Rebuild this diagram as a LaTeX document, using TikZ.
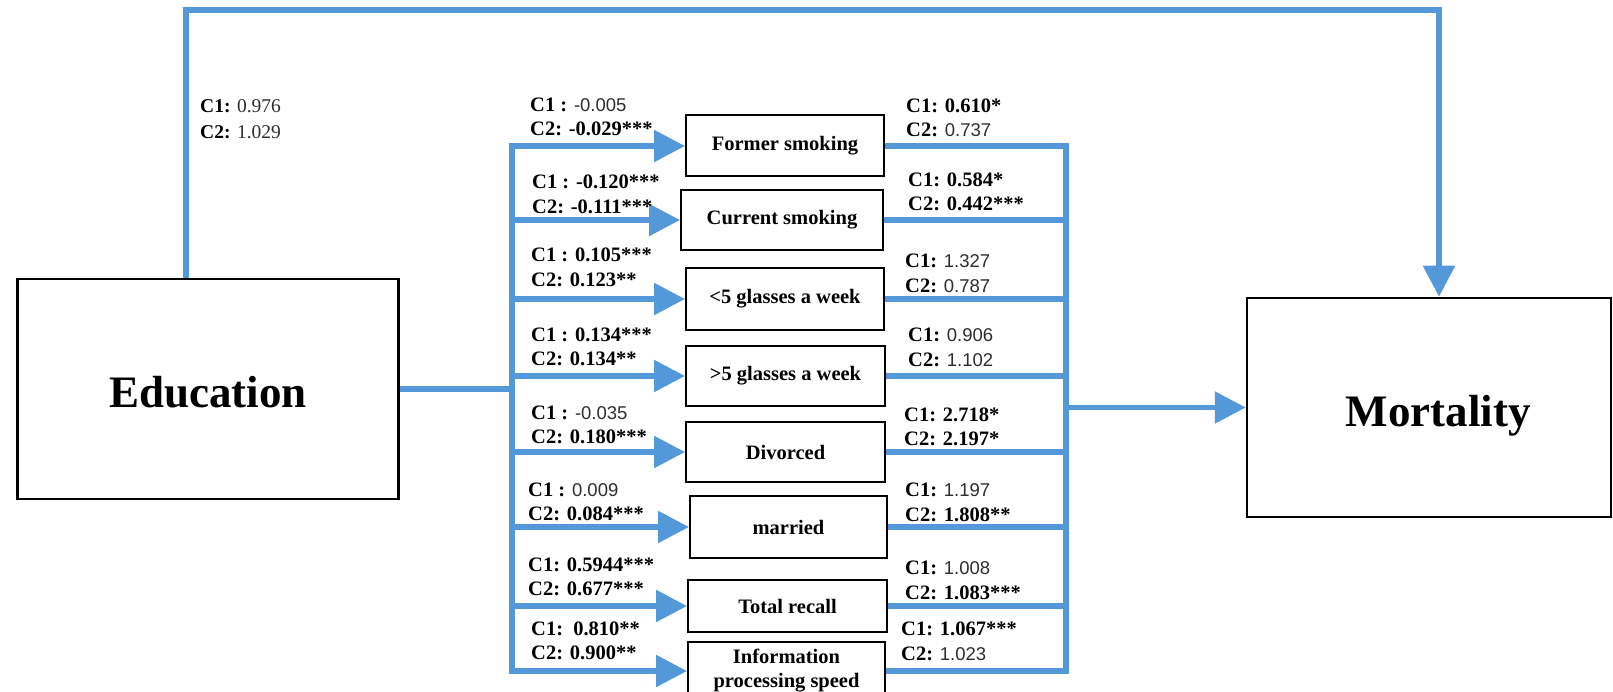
\documentclass[tikz,border=0pt]{standalone}
\usepackage{fontspec}
\setmainfont{Liberation Serif}
\newfontfamily\arialfam{Liberation Sans}
\usetikzlibrary{arrows.meta}
\definecolor{flow}{RGB}{83,152,216}
\definecolor{valgray}{RGB}{45,45,45}
\newcommand{\vnum}[1]{{\arialfam\fontsize{18.5}{24.5}\selectfont\color{valgray}#1}}
\newcommand{\vsm}[1]{{\color{valgray}#1}}
\begin{document}
\begin{tikzpicture}[x=1pt,y=-1pt,
  conn/.style={draw=flow,line width=5.5pt},
  arr/.style={conn,-{Triangle[length=31pt,width=31pt]}},
  medbox/.style={draw=black,line width=2pt,font=\bfseries\fontsize{20.5}{24}\selectfont,inner sep=0pt,align=center,minimum width=198pt},
  bigbox/.style={draw=black,line width=2.5pt,inner sep=0pt},
  bigtext/.style={font=\bfseries\fontsize{45}{50}\selectfont,inner sep=0pt},
  lab/.style={anchor=west,inner sep=0pt,align=left,font=\fontsize{20.5}{24.5}\selectfont},
  ]
\useasboundingbox (0,0) rectangle (1613,692);

% main boxes
\node[bigbox,minimum width=381pt,minimum height=220pt] (edu) at (208,389) {};
\node[bigtext] (eduT) at ([yshift=-3pt]edu.center) {Education};
\node[bigbox,minimum width=364pt,minimum height=219pt] (mort) at (1429,407.5) {};
\node[bigtext] (mortT) at ([xshift=9pt,yshift=-8pt]mort.center) {Mortality};

% mediator boxes
\node[medbox,minimum height=61pt] (m1) at (785,146) {Former smoking};
\node[medbox,minimum width=202pt,minimum height=60pt] (m2) at (782,220) {Current smoking};
\node[medbox,minimum height=61pt] (m3) at (785,299) {<5 glasses a week};
\node[medbox,minimum width=199pt,minimum height=60pt] (m4) at (785.5,376) {>5 glasses a week};
\node[medbox,minimum width=199pt,minimum height=60pt] (m5) at (785.5,452) {Divorced};
\node[medbox,minimum width=197pt,minimum height=62pt] (m6) at (788.5,527) {married};
\node[medbox,minimum width=199pt,minimum height=52pt] (m7) at (787.5,606) {Total recall};
\node[medbox,minimum width=197pt,minimum height=58pt] (m8) at (786.5,671) {Information\\processing speed};

% bus coordinates
\coordinate (lbT) at (512,147);
\coordinate (rbT) at (1066,147);
\coordinate (tl) at (186,10);
\coordinate (tr) at (1439,10);

% direct path
\draw[arr] (tl |- edu.north) -- (tl) -- (tr) -- (tr |- mort.north);

% education to left bus
\draw[conn] (edu.east) -- (edu.east -| lbT);
\draw[conn,line cap=rect] (m1.west -| lbT) -- (m8.west -| lbT);
\foreach \m in {m1,m2,m3,m4,m5,m6,m7,m8}{
  \draw[arr] (\m.west -| lbT) -- (\m.west);
  \draw[conn] (\m.east) -- (\m.east -| rbT);
}
\draw[conn,line cap=rect] (m1.east -| rbT) -- (m8.east -| rbT);
\draw[arr] (mort.west -| rbT) -- (mort.west);

% labels
\node[lab,font=\fontsize{19.5}{25.5}\selectfont] (le) at (200,119) {\textbf{C1:} \vsm{0.976}\\\textbf{C2:} \vsm{1.029}};

\node[lab] (l1) at (530,117) {\textbf{C1 :} \vnum{-0.005}\\\textbf{C2: -0.029***}};
\node[lab] (l2) at (532,194.5) {\textbf{C1 : -0.120***}\\\textbf{C2: -0.111***}};
\node[lab] (l3) at (531,267.5) {\textbf{C1 : 0.105***}\\\textbf{C2: 0.123**}};
\node[lab] (l4) at (531,347) {\textbf{C1 : 0.134***}\\\textbf{C2: 0.134**}};
\node[lab] (l5) at (531,425) {\textbf{C1 :} \vnum{-0.035}\\\textbf{C2: 0.180***}};
\node[lab] (l6) at (528,502) {\textbf{C1 :} \vnum{0.009}\\\textbf{C2: 0.084***}};
\node[lab] (l7) at (528,577) {\textbf{C1: 0.5944***}\\\textbf{C2: 0.677***}};
\node[lab] (l8) at (531,641) {\textbf{C1:\ \ 0.810**}\\\textbf{C2: 0.900**}};

\node[lab] (r1) at (906,118) {\textbf{C1: 0.610*}\\\textbf{C2:} \vnum{0.737}};
\node[lab] (r2) at (908,192) {\textbf{C1: 0.584*}\\\textbf{C2: 0.442***}};
\node[lab] (r3) at (905,273.5) {\textbf{C1:} \vnum{1.327}\\\textbf{C2:} \vnum{0.787}};
\node[lab] (r4) at (908,347.5) {\textbf{C1:} \vnum{0.906}\\\textbf{C2:} \vnum{1.102}};
\node[lab] (r5) at (904,427) {\textbf{C1: 2.718*}\\\textbf{C2: 2.197*}};
\node[lab] (r6) at (905,502.5) {\textbf{C1:} \vnum{1.197}\\\textbf{C2: 1.808**}};
\node[lab] (r7) at (905,580.5) {\textbf{C1:} \vnum{1.008}\\\textbf{C2: 1.083***}};
\node[lab] (r8) at (901,641.5) {\textbf{C1: 1.067***}\\\textbf{C2:} \vnum{1.023}};
\end{tikzpicture}
\end{document}
